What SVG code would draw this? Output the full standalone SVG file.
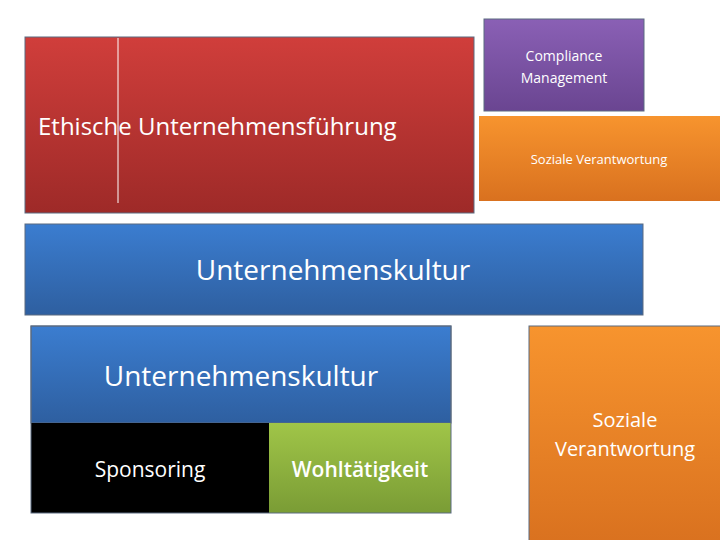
<svg xmlns="http://www.w3.org/2000/svg" width="720" height="540" viewBox="0 0 720 540">
<defs>
<linearGradient id="red" x1="0" y1="0" x2="0" y2="1"><stop offset="0" stop-color="#d03e3b"/><stop offset="1" stop-color="#9e2a28"/></linearGradient>
<linearGradient id="pur" x1="0" y1="0" x2="0" y2="1"><stop offset="0" stop-color="#8a60b5"/><stop offset="1" stop-color="#6a4591"/></linearGradient>
<linearGradient id="ora" x1="0" y1="0" x2="0" y2="1"><stop offset="0" stop-color="#f7942e"/><stop offset="1" stop-color="#d9711f"/></linearGradient>
<linearGradient id="blu" x1="0" y1="0" x2="0" y2="1"><stop offset="0" stop-color="#3b7dd0"/><stop offset="1" stop-color="#2e5fa0"/></linearGradient>
<linearGradient id="grn" x1="0" y1="0" x2="0" y2="1"><stop offset="0" stop-color="#a0c548"/><stop offset="1" stop-color="#7a9c35"/></linearGradient>
</defs>
<style>
text{font-family:"Open Sans","Noto Sans",sans-serif;fill:#fff}
.b{stroke:#5a6a80;stroke-width:1}
</style>
<g id="ethik"><rect class="b" x="25" y="37" width="449" height="176" fill="url(#red)"/>
<line x1="118" y1="38" x2="118" y2="203" stroke="#fff" stroke-width="1"/>
<text x="38" y="135" font-size="24">Ethische Unternehmensführung</text></g>
<g id="compliance"><rect class="b" x="484" y="19" width="160" height="92" fill="url(#pur)"/>
<text x="564" y="61" font-size="14" text-anchor="middle">Compliance</text>
<text x="564" y="83" font-size="14" text-anchor="middle">Management</text></g>
<g id="soziale1"><rect x="479" y="116" width="241" height="85" fill="url(#ora)"/>
<text x="599" y="164" font-size="13" text-anchor="middle">Soziale Verantwortung</text></g>
<g id="kultur1"><rect class="b" x="25" y="224" width="618" height="91" fill="url(#blu)"/>
<text x="333" y="280" font-size="28" text-anchor="middle">Unternehmenskultur</text></g>
<g id="kultur2"><rect class="b" x="31" y="326" width="420" height="97" fill="url(#blu)"/>
<text x="241" y="386" font-size="28" text-anchor="middle">Unternehmenskultur</text></g>
<g id="sponsoring"><rect x="31" y="423" width="238" height="90" fill="#000"/>
<text x="150" y="477" font-size="21" text-anchor="middle">Sponsoring</text></g>
<g id="wohltaetigkeit"><rect x="269" y="423" width="182" height="90" fill="url(#grn)"/>
<text x="360" y="477" font-size="21" text-anchor="middle" font-weight="600">Wohltätigkeit</text></g>
<rect x="31" y="326" width="420" height="187" fill="none" stroke="#5a6a80"/>
<g id="soziale2"><rect class="b" x="529" y="326" width="195" height="220" fill="url(#ora)"/>
<text x="625" y="427" font-size="20" text-anchor="middle">Soziale</text>
<text x="625" y="456" font-size="20" text-anchor="middle">Verantwortung</text></g>
<g id="connectors"/>
</svg>
